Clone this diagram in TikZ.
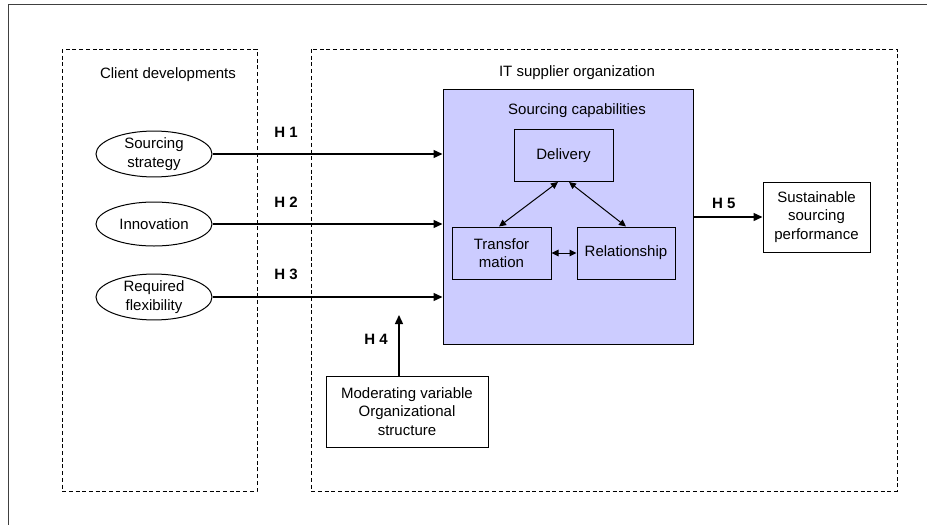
\documentclass[tikz,border=0pt]{standalone}
\usepackage{fontspec}
\setmainfont{Liberation Sans}
\usetikzlibrary{arrows.meta,positioning,shapes.geometric}

\begin{document}
\begin{tikzpicture}[x=1pt, y=-1pt, font=\fontsize{15}{18.5}\selectfont,
        region/.style = {draw, dash pattern=on 4pt off 2.7pt, line width=0.8pt},
        driver/.style = {ellipse, draw, line width=1pt, minimum width=116pt, minimum height=44pt, inner sep=0pt, align=center},
        capbox/.style = {draw, line width=1pt, minimum width=99pt, minimum height=52pt, align=center},
        hyp/.style = {-{Triangle[length=9pt,width=8pt]}, line width=1.4pt},
        hlabel/.style = {font=\fontsize{15}{18}\selectfont\bfseries},
        link/.style = {{Triangle[length=7pt,width=6.5pt]}-{Triangle[length=7pt,width=6.5pt]}, line width=1pt}]
    \useasboundingbox (0,0) rectangle (927,525);
    % outer frame (only top and left edge visible)
    \draw[line width=1pt, black!75] (927,4) -- (8,4) -- (8,525);

    % the two regions
    \draw[region] (62,49) rectangle (257,491);
    \draw[region] (311,49) rectangle (897,491);
    \node (client) at (168,75) {Client developments};
    \node (supplier) at (577,73) {IT supplier organization};

    % sourcing capabilities
    \node [draw, line width=1pt, fill={rgb,255:red,204;green,204;blue,255}, minimum width=250pt, minimum height=255pt] (cap) at (568,216.5) {};
    \node (captitle) at (577,111) {Sourcing capabilities};
    \node [capbox] (delivery) at (563.5,155.5) {Delivery};
    \node [capbox] (transf) at (501.5,253) {Transfor\\mation};
    \node [capbox, minimum width=98pt] (relation) at (626,253) {Relationship};
    \draw[link] ([xshift=-2.5pt]transf.north) -- ([xshift=-5.5pt]delivery.south);
    \draw[link] ([xshift=5.5pt]delivery.south) -- (relation.north);
    \draw[link] (transf) -- (relation);

    % client developments
    \node [driver] (strategy) at (154,154) {Sourcing\\strategy};
    \node [driver] (innov) at (154,224) {Innovation};
    \node [driver] (flex) at (154,297) {Required\\flexibility};
    \draw[hyp] (strategy) -- (strategy -| cap.west) node [hlabel, pos=0.32, yshift=22pt] {H 1};
    \draw[hyp] (innov) -- (innov -| cap.west) node [hlabel, pos=0.32, yshift=22pt] {H 2};
    \draw[hyp] (flex) -- (flex -| cap.west) node [hlabel, pos=0.32, yshift=23pt] {H 3};

    % moderator
    \node [draw, line width=1pt, minimum width=162pt, minimum height=71pt, align=center] (moder) at (407,411.5) {Moderating variable\\Organizational\\structure};
    \coordinate (h4end) at (399,315);
    \draw[hyp] (moder.north -| h4end) -- (h4end) node [hlabel, pos=0.6, xshift=-23pt] {H 4};

    % outcome
    \node [draw, line width=1pt, minimum width=107pt, minimum height=70pt, align=center] (perf) at (816.5,217) {Sustainable\\sourcing\\performance};
    \draw[hyp] (cap.east |- perf) -- (perf.west) node [hlabel, pos=0.44, yshift=14pt] {H 5};
\end{tikzpicture}
\end{document}
